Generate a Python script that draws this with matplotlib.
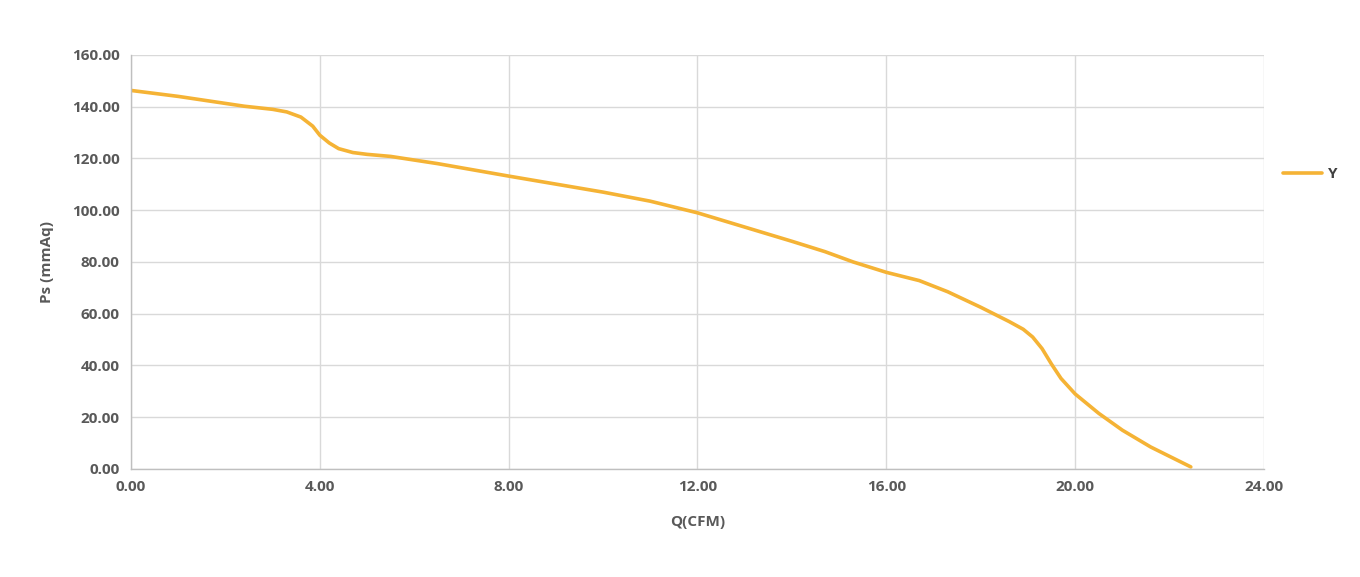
import matplotlib
matplotlib.use("Agg")
import matplotlib.pyplot as plt
from matplotlib.ticker import FormatStrFormatter

# 風量-静圧カーブ (読み取り値)
q_cfm = [0.0, 1.0, 2.4, 3.0, 3.3, 3.6, 3.85, 4.0, 4.2, 4.4, 4.7, 5.0, 5.5, 6.5, 8.0,
         10.0, 11.0, 12.0, 13.0, 14.0, 14.7, 15.3, 16.0, 16.7, 17.3, 18.0, 18.6,
         18.9, 19.1, 19.3, 19.5, 19.7, 20.0, 20.5, 21.0, 21.6, 22.45]
ps_mmaq = [146.3, 144.0, 140.2, 139.0, 138.0, 136.0, 132.5, 129.0, 126.0, 123.8, 122.3,
           121.6, 120.8, 118.0, 113.2, 107.0, 103.5, 99.0, 93.5, 88.0, 84.0, 80.0, 76.0,
           72.8, 68.5, 62.5, 57.0, 54.0, 51.0, 46.5, 40.5, 35.0, 29.0, 21.5, 15.0, 8.5, 0.8]
series_name = "Y"

text_color = "#595959"
line_color = "#F5B335"
grid_color = "#D9D9D9"

plt.rcParams["font.family"] = ["Open Sans", "DejaVu Sans"]
plt.rcParams["font.weight"] = "bold"

fig = plt.figure(figsize=(13.6, 5.77), dpi=100)
ax = fig.add_axes([0.0963, 0.1872, 0.8331, 0.7175])

ax.plot(q_cfm, ps_mmaq, color=line_color, linewidth=2.6, label=series_name,
        solid_joinstyle="round", solid_capstyle="round")

ax.set_xlim(0, 24)
ax.set_ylim(0, 160)
ax.set_xticks(range(0, 25, 4))
ax.set_yticks(range(0, 161, 20))
ax.xaxis.set_major_formatter(FormatStrFormatter("%.2f"))
ax.yaxis.set_major_formatter(FormatStrFormatter("%.2f"))

ax.grid(True, color=grid_color, linewidth=1.0)
ax.set_axisbelow(True)
for side in ["top", "right"]:
    ax.spines[side].set_visible(False)
for side in ["left", "bottom"]:
    ax.spines[side].set_color("#BFBFBF")
    ax.spines[side].set_linewidth(1.0)

ax.tick_params(length=0, labelsize=11, colors=text_color, pad=8)
for lbl in ax.get_xticklabels() + ax.get_yticklabels():
    lbl.set_fontweight("bold")

ax.set_xlabel("Q(CFM)", fontsize=11, color=text_color, fontweight="bold", labelpad=15)
ax.set_ylabel("Ps (mmAq)", fontsize=11, color=text_color, fontweight="bold", labelpad=13)

leg = fig.legend(loc="center left", bbox_to_anchor=(0.933, 0.698), frameon=False,
                 handlelength=2.6, handletextpad=0.4, fontsize=11)
for t in leg.get_texts():
    t.set_color("#404040")
    t.set_fontweight("bold")

fig.savefig("out.png", dpi=100, facecolor="white")
